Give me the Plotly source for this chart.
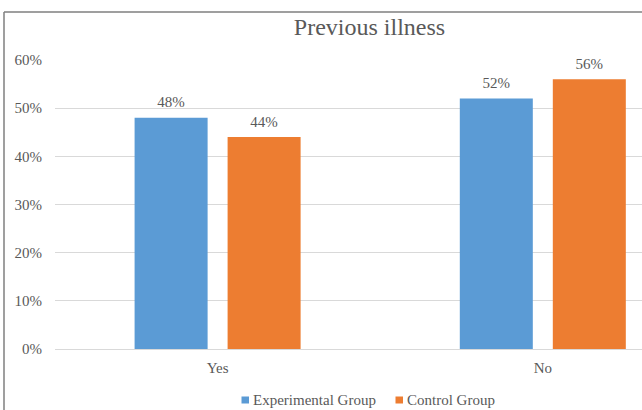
import plotly.graph_objects as go

categories = ["Yes", "No"]
experimental = [0.48, 0.52]
control = [0.44, 0.56]
series_names = ["Experimental Group", "Control Group"]
series_colors = ["#5B9BD5", "#ED7D31"]
tick_vals = [0, 0.1, 0.2, 0.3, 0.4, 0.5, 0.6]
tick_text = ["0%", "10%", "20%", "30%", "40%", "50%", "60%"]

FONT = "Liberation Serif, Times New Roman, serif"
TXT = "#595959"

# plot-area pixel geometry (for layout-only placements)
L, R, T, B = 55, 642, 60, 349
def px(x):
    return (x - L) / (R - L)
def py(y):
    return (B - y) / (B - T)

fig = go.Figure()
for i, (name, vals, col) in enumerate(zip(series_names, [experimental, control], series_colors)):
    fig.add_trace(go.Bar(
        x=categories, y=vals, name=name, offsetgroup=str(i), alignmentgroup="a",
        marker=dict(color=col, line=dict(width=0)),
        showlegend=False,
    ))
for i, (name, vals) in enumerate(zip(series_names, [experimental, control])):
    fig.add_trace(go.Scatter(
        x=categories, y=vals, name=name, offsetgroup=str(i), alignmentgroup="a",
        mode="markers+text", marker=dict(size=9, opacity=0),
        text=[f"{v*100:.0f}%" for v in vals], textposition="top center",
        textfont=dict(family=FONT, size=15, color=TXT), cliponaxis=False,
        showlegend=False, hoverinfo="skip",
    ))

# chart border (partially cropped)
bx = px(4)
ty = py(12)
fig.add_shape(type="line", xref="paper", yref="paper", x0=bx, x1=bx, y0=py(420), y1=ty,
              line=dict(color="#7f7f7f", width=1.5))
fig.add_shape(type="line", xref="paper", yref="paper", x0=bx, x1=px(660), y0=ty, y1=ty,
              line=dict(color="#7f7f7f", width=1.5))

# legend (squares + labels)
legend_x = [241.5, 395.5]
for name, col, lx in zip(series_names, series_colors, legend_x):
    fig.add_shape(type="rect", xref="paper", yref="paper",
                  x0=px(lx), x1=px(lx + 7.5), y0=py(403.5), y1=py(396.5),
                  fillcolor=col, line=dict(width=0))
    fig.add_annotation(text=name, xref="paper", yref="paper", x=px(lx + 9), y=py(400),
                       xanchor="left", yanchor="middle", showarrow=False,
                       font=dict(family=FONT, size=15, color=TXT))

fig.update_layout(
    width=642, height=410,
    margin=dict(l=L, r=642 - R, t=T, b=410 - B),
    paper_bgcolor="white", plot_bgcolor="white",
    barmode="group", bargap=0.428, bargroupgap=0.215,
    scattermode="group", scattergap=0.428,
    title=dict(text="Previous illness", x=369.5 / 642, xanchor="center", xref="container",
               y=1 - 27 / 410, yanchor="middle", yref="container",
               font=dict(family=FONT, size=24, color=TXT)),
    xaxis=dict(range=[-0.5, 1.305], showgrid=False, showline=False, zeroline=False,
               ticks="", tickfont=dict(family=FONT, size=15, color=TXT),
               ticklabelstandoff=8),
    yaxis=dict(range=[0, 0.6], tickvals=tick_vals, ticktext=tick_text,
               showgrid=True, gridcolor="#d9d9d9", gridwidth=1,
               zeroline=True, zerolinecolor="#d9d9d9", zerolinewidth=1,
               showline=False, ticks="", ticklabelstandoff=12,
               tickfont=dict(family=FONT, size=15, color=TXT)),
    showlegend=False,
)

fig.write_html("out.html")
